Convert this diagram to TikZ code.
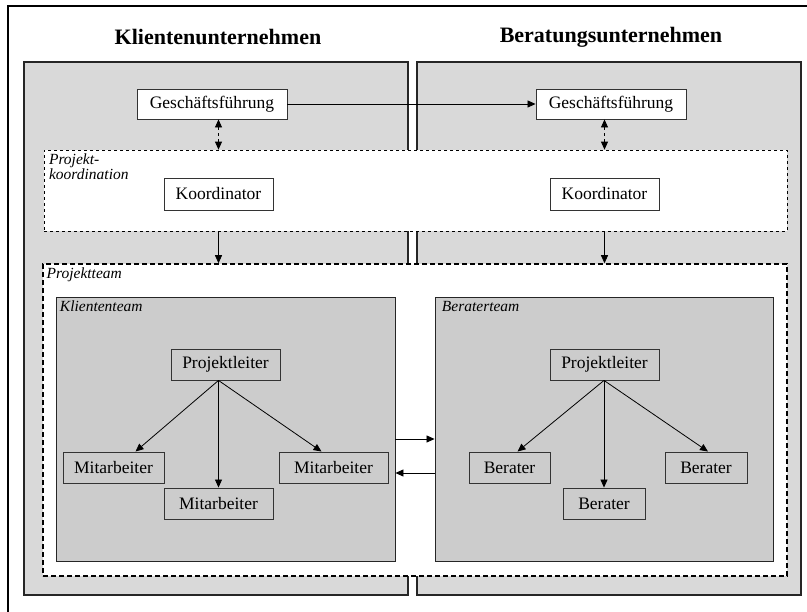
\documentclass[tikz,border=0pt]{standalone}
\usepackage{fontspec}
\setmainfont{Liberation Serif}
\usetikzlibrary{arrows.meta,positioning,calc}

\tikzset{
    >={Triangle[length=8pt,width=7pt]},
    firma/.style={draw=black!85, line width=1.6pt, fill=black!15, inner sep=0pt},
    ebene/.style={draw, dashed, fill=white, inner sep=0pt},
    team/.style={draw=black!85, line width=0.9pt, fill=black!20, inner sep=0pt},
    kasten/.style={draw=black!80, line width=0.9pt, fill=white, inner sep=0pt,
        minimum height=31pt, font=\fontsize{17.5}{20}\selectfont},
    titel/.style={font=\fontsize{22}{26}\selectfont\bfseries},
    etikett/.style={inner sep=0pt, align=left, font=\fontsize{15.5}{13}\selectfont\itshape}
}

\begin{document}
\begin{tikzpicture}[x=1pt,y=-1pt,line width=0.8pt]
    \useasboundingbox (0,0) rectangle (807,612);

    % 外框
    \draw[line width=1.3pt] (8,620) -- (8,6) -- (815,6);

    % 标题
    \node[titel] (tK) at (218,37) {Klientenunternehmen};
    \node[titel] (tB) at (611,37) {Beratungsunternehmen};

    % 两个企业
    \node[firma, minimum width=384pt, minimum height=533pt] (fK) at (216,328.5) {};
    \node[firma, minimum width=384pt, minimum height=533pt] (fB) at (609,328.5) {};

    % 管理层
    \node[kasten, minimum width=150pt, minimum height=30pt] (gfK) at (212,104) {Geschäftsführung};
    \node[kasten, minimum width=150pt, minimum height=30pt] (gfB) at (611,104) {Geschäftsführung};
    \draw[->] (gfK) -- (gfB);

    % 项目协调
    \node[ebene, line width=0.7pt, minimum width=743pt, minimum height=81pt] (pk) at (415.5,190.5) {};
    \node[etikett, below right=4pt and 5pt of pk.north west] (pkL) {Projekt-\\koordination};
    \node[kasten, minimum width=109pt, minimum height=32pt] (koK) at (218.5,194) {Koordinator};
    \node[kasten, minimum width=109pt, minimum height=32pt] (koB) at (604.5,194) {Koordinator};
    \draw[<->, dashed] (gfK.south -| koK) -- (pk.north -| koK);
    \draw[<->, dashed] (gfB.south -| koB) -- (pk.north -| koB);

    % 项目团队
    \node[ebene, line width=1.5pt, dash pattern=on 5pt off 3pt, minimum width=744pt, minimum height=312pt] (pt) at (415,420) {};
    \node[etikett, below right=4pt and 4pt of pt.north west] (ptL) {Projektteam};
    \draw[->] (pk.south -| koK) -- (pt.north -| koK);
    \draw[->] (pk.south -| koB) -- (pt.north -| koB);

    % 客户团队
    \node[team, minimum width=339pt, minimum height=264pt] (kt) at (225.5,429) {};
    \node[etikett, below right=4pt and 4pt of kt.north west] (ktL) {Kliententeam};
    \node[kasten, fill=black!20, minimum width=109pt] (plK) at (225.5,364.5) {Projektleiter};
    \node[kasten, fill=black!20, minimum width=101pt] (maK1) at (113.5,467.5) {Mitarbeiter};
    \node[kasten, fill=black!20, minimum width=109pt] (maK2) at (218.5,503.5) {Mitarbeiter};
    \node[kasten, fill=black!20, minimum width=109pt] (maK3) at (333.5,467.5) {Mitarbeiter};
    \coordinate (sK) at (plK.south -| maK2.north);
    \draw[->] (sK) -- ([xshift=22pt]maK1.north);
    \draw[->] (sK) -- (maK2.north);
    \draw[->] (sK) -- ([xshift=-12pt]maK3.north);

    % 顾问团队
    \node[team, minimum width=338pt, minimum height=264pt] (bt) at (604,429) {};
    \node[etikett, below right=4pt and 7pt of bt.north west] (btL) {Beraterteam};
    \node[kasten, fill=black!20, minimum width=109pt] (plB) at (604.5,364.5) {Projektleiter};
    \node[kasten, fill=black!20, minimum width=81pt] (beB1) at (509.5,467.5) {Berater};
    \node[kasten, fill=black!20, minimum width=82pt] (beB2) at (604,503.5) {Berater};
    \node[kasten, fill=black!20, minimum width=82pt] (beB3) at (706,467.5) {Berater};
    \coordinate (sB) at (plB.south -| beB2.north);
    \draw[->] (sB) -- ([xshift=8pt]beB1.north);
    \draw[->] (sB) -- (beB2.north);
    \draw[->] (sB) -- ([xshift=2pt]beB3.north);

    % 团队之间
    \draw[->] ($(kt.east)+(0,10)$) -- ($(bt.west)+(0,10)$);
    \draw[<-] ($(kt.east)+(0,44)$) -- ($(bt.west)+(0,44)$);
\end{tikzpicture}
\end{document}
